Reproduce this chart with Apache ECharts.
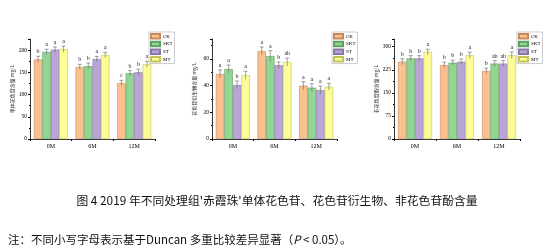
<!DOCTYPE html>
<html><head><meta charset="utf-8">
<script src="https://cdn.jsdelivr.net/npm/echarts@6/dist/echarts.min.js"></script>
<style>html,body{margin:0;padding:0;background:#fff}#c{width:550px;height:251px}</style>
</head><body><div id="c"></div>
<script>
const categories = ['0M', '6M', '12M'];
const treatments = ['CK', 'SKT', 'ST', 'MT'];
// panel 1: monomeric anthocyanins (rows = treatments, cols = categories)
const p1Values = { CK: [179, 162, 126], SKT: [196, 164, 148], ST: [201, 180, 150], MT: [202, 189, 168] };
const p1Errors = { CK: [7, 6, 6], SKT: [6, 7, 6], ST: [6, 6, 7], MT: [7, 6, 7] };
const p1Letters = { CK: ['b', 'b', 'c'], SKT: ['a', 'b', 'b'], ST: ['a', 'a', 'b'], MT: ['a', 'a', 'a'] };
// panel 2: anthocyanin derivatives
const p2Values = { CK: [48.8, 66, 40], SKT: [52.5, 62.2, 38.5], ST: [40.5, 55.3, 36.7], MT: [47.8, 57.7, 39.2] };
const p2Errors = { CK: [3, 3, 3], SKT: [3, 4, 3], ST: [3, 2.5, 3], MT: [3, 3, 2.5] };
const p2Letters = { CK: ['a', 'a', 'a'], SKT: ['a', 'a', 'a'], ST: ['b', 'b', 'a'], MT: ['a', 'ab', 'a'] };
// panel 3: non-anthocyanin phenols
const p3Values = { CK: [251, 240, 221], SKT: [262, 248, 245], ST: [262, 251, 245], MT: [283, 272, 272] };
const p3Errors = { CK: [10, 10, 9], SKT: [9, 8, 10], ST: [9, 9, 10], MT: [9, 10, 11] };
const p3Letters = { CK: ['b', 'b', 'b'], SKT: ['b', 'b', 'ab'], ST: ['b', 'b', 'ab'], MT: ['a', 'a', 'a'] };
const yNames = ['单体花色苷含量 mg/L', '花色苷衍生物含量 mg/L', '非花色苷酚含量 mg/L'];
const yTicks = [{ max: 225, interval: 50 }, { max: 75, interval: 20 }, { max: 325, interval: 75 }];

const colors = ['#FBC08F', '#93D694', '#BAA6D6', '#FDFD98'];
const borders = ['#C98A5A', '#5E9E60', '#8A76A8', '#C5C55C'];
const panels = [
  { v: p1Values, e: p1Errors, l: p1Letters, left: 30, right: 155, legX: 149 },
  { v: p2Values, e: p2Errors, l: p2Letters, left: 212, right: 337, legX: 332 },
  { v: p3Values, e: p3Errors, l: p3Letters, left: 394, right: 520, legX: 517 }
];
const BW = 8.5;
const serif = 'Liberation Serif';
const grids = [], xAxes = [], yAxes = [], series = [], legends = [];
panels.forEach((p, pi) => {
  grids.push({ left: p.left, width: p.right - p.left, top: 39, height: 100 });
  xAxes.push({
    type: 'category', gridIndex: pi, data: categories,
    axisLine: { lineStyle: { color: '#000', width: 0.8 } },
    axisTick: { show: true, alignWithLabel: false, length: 2, lineStyle: { color: '#000' } },
    axisLabel: { fontFamily: serif, fontSize: 6, color: '#000', margin: 4 }
  });
  yAxes.push({
    type: 'value', gridIndex: pi, min: 0, max: yTicks[pi].max, interval: yTicks[pi].interval,
    name: yNames[pi], nameLocation: 'middle', nameGap: 15, nameRotate: 90,
    nameTextStyle: { fontFamily: 'Noto Sans CJK SC', fontSize: 5, color: '#333' },
    axisLine: { show: true, lineStyle: { color: '#000', width: 0.8 } },
    axisTick: { show: true, length: 2, lineStyle: { color: '#000' } },
    minorTick: { show: true, splitNumber: 2, length: 1, lineStyle: { color: '#000' } },
    axisLabel: { fontFamily: serif, fontSize: 5.5, color: '#000', margin: 3, showMaxLabel: false },
    splitLine: { show: false }
  });
  treatments.forEach((t, ti) => {
    series.push({
      type: 'bar', name: t, xAxisIndex: pi, yAxisIndex: pi,
      data: p.v[t], barWidth: BW, barGap: '0%',
      itemStyle: { color: colors[ti], borderColor: borders[ti], borderWidth: 0.6 },
      z: 2
    });
  });
  const eb = [];
  treatments.forEach((t, ti) => {
    categories.forEach((c, ci) => eb.push([ci, p.v[t][ci], p.e[t][ci], ti, p.l[t][ci]]));
  });
  series.push({
    type: 'custom', xAxisIndex: pi, yAxisIndex: pi, z: 5, silent: true,
    encode: { x: 0, y: 1 },
    data: eb,
    renderItem: function (params, api) {
      const ci = api.value(0), v = api.value(1), e = api.value(2), ti = api.value(3);
      const letter = eb[params.dataIndex][4];
      const off = (ti - 1.5) * BW;
      const top = api.coord([ci, v + e]);
      const bot = api.coord([ci, v - e]);
      const x = top[0] + off;
      return {
        type: 'group', children: [
          { type: 'line', shape: { x1: x, y1: top[1], x2: x, y2: bot[1] }, style: { stroke: '#666', lineWidth: 0.6 } },
          { type: 'line', shape: { x1: x - 2, y1: top[1], x2: x + 2, y2: top[1] }, style: { stroke: '#666', lineWidth: 0.6 } },
          { type: 'text', style: { text: letter, x: x, y: top[1] - 1.5, align: 'center', verticalAlign: 'bottom', font: '6px ' + serif, fill: '#222' } }
        ]
      };
    }
  });
  legends.push({
    orient: 'vertical', left: p.legX, top: 32, data: treatments,
    itemWidth: 9, itemHeight: 4.5, itemGap: 1.2, padding: [1, 2, 1, 1],
    borderColor: '#999', borderWidth: 0.5,
    textStyle: { fontFamily: serif, fontSize: 5, lineHeight: 5, color: '#000', padding: [0, 0, 0, -2] },
    icon: 'rect', selectedMode: false
  });
});
const chart = echarts.init(document.getElementById('c'), null, { renderer: 'canvas' });
chart.setOption({
  animation: false,
  backgroundColor: '#fff',
  grid: grids, xAxis: xAxes, yAxis: yAxes, series: series, legend: legends,
  title: [
    { text: "图 4 2019 年不同处理组'赤霞珠'单体花色苷、花色苷衍生物、非花色苷酚含量", left: 272, top: 190, textAlign: 'center',
      textStyle: { fontFamily: 'Noto Sans CJK SC', fontSize: 11.8, fontWeight: 'normal', color: '#111' } },
    { text: '注：不同小写字母表示基于Duncan 多重比较差异显著（{i|P} < 0.05）。', left: 3, top: 229,
      textStyle: { fontFamily: 'Noto Sans CJK SC', fontSize: 11.5, fontWeight: 'normal', color: '#111',
        rich: { i: { fontFamily: 'Noto Sans CJK SC', fontStyle: 'italic', fontSize: 11.5, color: '#111' } } } }
  ]
});
</script></body></html>
